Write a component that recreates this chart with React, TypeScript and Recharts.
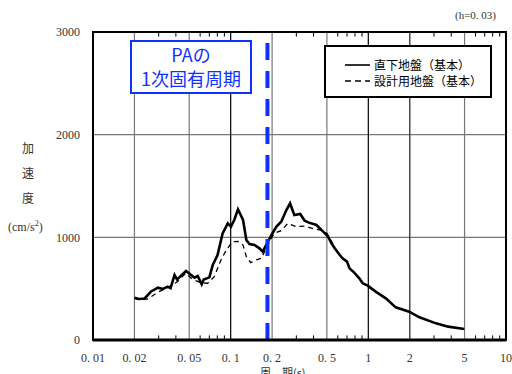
import { LineChart, Line, XAxis, YAxis, CartesianGrid, ReferenceLine, ReferenceArea } from "recharts";

// 周期 (s) と加速度 (cm/s2) — 直下地盤（基本）
const basePeriods = [
  0.02, 0.0215, 0.0237, 0.0263, 0.0296, 0.0321, 0.0349, 0.0366, 0.0391, 0.0408, 0.0474, 0.0516, 0.0546,
  0.0576, 0.0616, 0.0637, 0.07, 0.0741, 0.0803, 0.0874, 0.0952, 0.1005, 0.1062, 0.113, 0.123, 0.13,
  0.137, 0.149, 0.162, 0.171, 0.181, 0.198, 0.215, 0.233, 0.254, 0.27, 0.29, 0.32, 0.345, 0.37, 0.42,
  0.47, 0.51, 0.54, 0.57, 0.62, 0.65, 0.7, 0.73, 0.79, 0.86, 0.91, 0.99, 1.13, 1.34, 1.58, 1.98, 2.35,
  3.1, 3.8, 4.98,
];
const baseValues = [
  412, 400, 405, 470, 510, 497, 520, 505, 633, 590, 672, 633, 607, 623, 542, 590, 610, 730, 828, 1039,
  1136, 1104, 1169, 1273, 1169, 974, 935, 925, 893, 860, 925, 1023, 1104, 1152, 1266, 1331, 1217, 1227,
  1162, 1143, 1120, 1055, 1006, 942, 893, 828, 795, 763, 698, 656, 601, 552, 529, 471, 406, 318, 276,
  221, 162, 130, 107,
];

// 設計用地盤（基本）
const designPeriods = [
  0.02, 0.022, 0.025, 0.03, 0.035, 0.041, 0.047, 0.053, 0.061, 0.068, 0.076, 0.085, 0.093, 0.103, 0.113,
  0.123, 0.13, 0.14, 0.153, 0.167, 0.181, 0.198, 0.208, 0.233, 0.26, 0.3, 0.345, 0.39, 0.45, 0.5, 0.56,
];
const designValues = [
  405, 390, 400, 470, 510, 568, 649, 590, 558, 552, 617, 779, 877, 958, 960, 925, 812, 753, 779, 795,
  893, 994, 1039, 1065, 1136, 1104, 1110, 1088, 1071, 1039, 925,
];

const xTicks = [0.01, 0.02, 0.05, 0.1, 0.2, 0.5, 1, 2, 5, 10];
const xTickLabels = ["0. 01", "0. 02", "0. 05", "0. 1", "0. 2", "0. 5", "1", "2", "5", "10"];
const minorTicks = [0.03, 0.04, 0.06, 0.07, 0.08, 0.09, 0.3, 0.4, 0.6, 0.7, 0.8, 0.9, 3, 4, 6, 7, 8, 9];
const yTicks = [0, 1000, 2000, 3000];
const paPeriod = 0.185;

const baseData = basePeriods.map((x, i) => ({ x, y: baseValues[i] }));
const designData = designPeriods.map((x, i) => ({ x, y: designValues[i] }));

const serif = "'Liberation Serif', 'DejaVu Serif', serif";
const jp = "'Noto Sans CJK JP', sans-serif";

function LegendBox() {
  return (
    <div
      style={{
        position: "absolute",
        left: 324,
        top: 45,
        border: "2px solid #000",
        background: "#fff",
        width: 168,
        height: 53,
        boxSizing: "border-box",
        padding: "10px 0 0 19px",
        fontFamily: jp,
        fontSize: 12,
        lineHeight: "16px",
        color: "#000",
      }}
    >
      <div style={{ display: "flex", alignItems: "center", height: 16 }}>
        <svg width={29} height={6}>
          <line x1={0} y1={3} x2={25} y2={3} stroke="#000" strokeWidth={1.6} />
        </svg>
        <span>直下地盤（基本）</span>
      </div>
      <div style={{ display: "flex", alignItems: "center", height: 16 }}>
        <svg width={29} height={6}>
          <line x1={0} y1={3} x2={25} y2={3} stroke="#000" strokeWidth={1.6} strokeDasharray="6 4" />
        </svg>
        <span>設計用地盤（基本）</span>
      </div>
    </div>
  );
}

export default function App() {
  return (
    <div style={{ position: "absolute", left: 0, top: 0, width: 512, height: 374, background: "#fff", overflow: "hidden" }}>
      <LineChart width={512} height={374} margin={{ top: 32, right: 6, bottom: 0, left: 0 }}>
        <CartesianGrid stroke="#777" strokeWidth={1.2} verticalValues={xTicks} horizontalValues={yTicks} />
        <XAxis
          dataKey="x"
          type="number"
          scale="log"
          domain={[0.01, 10]}
          allowDataOverflow
          ticks={xTicks}
          tickFormatter={(v: number) => xTickLabels[xTicks.indexOf(v)] ?? String(v)}
          tickLine={false}
          tickSize={0}
          tickMargin={13}
          height={34}
          axisLine={{ stroke: "#000", strokeWidth: 3 }}
          tick={{ fill: "#333", fontSize: 12, fontFamily: serif }}
        />
        <YAxis
          type="number"
          domain={[0, 3000]}
          ticks={yTicks}
          width={93}
          tickLine={false}
          tickSize={0}
          tickMargin={13}
          axisLine={{ stroke: "#000", strokeWidth: 2 }}
          tick={{ fill: "#333", fontSize: 12, fontFamily: serif }}
        />
        <ReferenceLine x={0.1} stroke="#000" strokeWidth={1} />
        <ReferenceLine x={1} stroke="#000" strokeWidth={1} />
        <ReferenceLine x={2} stroke="#333" strokeWidth={1} />
        {minorTicks.map((t) => (
          <ReferenceLine key={"b" + t} segment={[{ x: t, y: 0 }, { x: t, y: 45 }]} stroke="#000" strokeWidth={1} />
        ))}
        {minorTicks.map((t) => (
          <ReferenceLine key={"t" + t} segment={[{ x: t, y: 3000 }, { x: t, y: 2955 }]} stroke="#000" strokeWidth={1} />
        ))}
        <ReferenceArea x1={0.01} x2={10} y1={0} y2={3000} fill="none" stroke="#000" strokeWidth={2} />
        <Line
          data={designData}
          dataKey="y"
          stroke="#000"
          strokeWidth={1.3}
          strokeDasharray="5 4"
          dot={false}
          isAnimationActive={false}
        />
        <Line data={baseData} dataKey="y" stroke="#000" strokeWidth={2.6} dot={false} isAnimationActive={false} />
        <ReferenceLine x={paPeriod} stroke="#1030ff" strokeWidth={4} strokeDasharray="17 11" />
      </LineChart>

      <LegendBox />

      <div
        style={{
          position: "absolute",
          left: 130,
          top: 40,
          width: 122,
          height: 54,
          boxSizing: "border-box",
          border: "2px solid #1030ff",
          background: "#fff",
          color: "#1030ff",
          fontFamily: jp,
          fontSize: 18,
          lineHeight: "24px",
          textAlign: "center",
        }}
      >
        PAの
        <br />
        1次固有周期
      </div>

      <div style={{ position: "absolute", left: 455, top: 9, fontFamily: serif, fontSize: 11, color: "#333" }}>
        (h=0. 03)
      </div>

      {["加", "速", "度"].map((c, i) => (
        <div
          key={c}
          style={{ position: "absolute", left: 22, top: 139 + i * 25, fontFamily: jp, fontSize: 12, color: "#333" }}
        >
          {c}
        </div>
      ))}
      <div style={{ position: "absolute", left: 8, top: 219, fontFamily: serif, fontSize: 12, color: "#333" }}>
        (cm/s<sup style={{ fontSize: 8 }}>2</sup>)
      </div>

      <div
        style={{
          position: "absolute",
          left: 260,
          top: 365,
          fontFamily: jp,
          fontSize: 11,
          lineHeight: "14px",
          color: "#333",
        }}
      >
        周　期(s)
      </div>
    </div>
  );
}
